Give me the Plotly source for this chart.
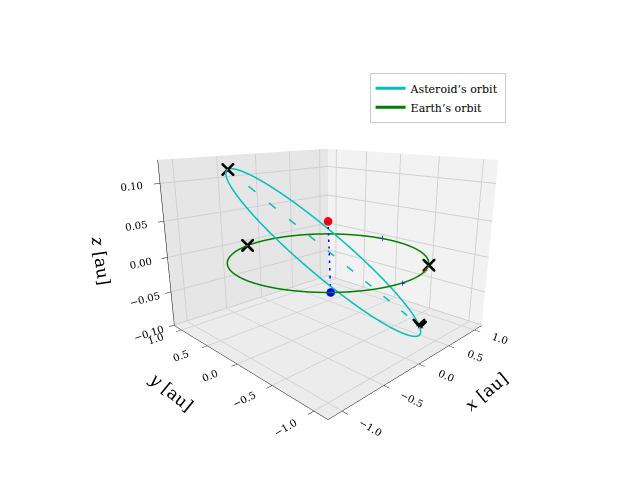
import numpy as np
import plotly.graph_objects as go

# orbit parameters (au)
earth_radius = 1.0
ast_center = [0.0, 0.0, 0.009]
ast_major = [-0.68, 0.68, 0.109]
ast_minor = [0.7, 0.7, 0.0]

# marked points
cross_x = [-0.68, 0.68, 0.65, -0.3, 0.5]
cross_y = [0.68, -0.68, -0.72, 0.96, -0.87]
cross_z = [0.118, -0.1, -0.1, 0.0, 0.0]
blue_plus_x = [1.0, -0.1]
blue_plus_y = [0.1, -1.0]
red_plus = [0.33, -0.94, 0.0]
red_dot = [0.0, 0.0, 0.05]
blue_dot = [-0.69, -0.72, 0.0]

t = np.linspace(0, 2 * np.pi, 300)
ex = earth_radius * np.cos(t)
ey = earth_radius * np.sin(t)
ez = np.zeros_like(t)
ax_ = ast_center[0] + ast_major[0] * np.cos(t) + ast_minor[0] * np.sin(t)
ay_ = ast_center[1] + ast_major[1] * np.cos(t) + ast_minor[1] * np.sin(t)
az_ = ast_center[2] + ast_major[2] * np.cos(t) + ast_minor[2] * np.sin(t)

fig = go.Figure()
fig.add_trace(go.Scatter3d(x=ax_, y=ay_, z=az_, mode="lines", line=dict(color="#00bfbf", width=3),
                           name="Asteroid’s orbit"))
fig.add_trace(go.Scatter3d(x=ex, y=ey, z=ez, mode="lines", line=dict(color="green", width=3),
                           name="Earth’s orbit"))
# line of apsides
fig.add_trace(go.Scatter3d(x=[cross_x[0], cross_x[1]], y=[cross_y[0], cross_y[1]], z=[cross_z[0], cross_z[1]],
                           mode="lines", line=dict(color="#00bfbf", width=3, dash="longdash"), showlegend=False))
fig.add_trace(go.Scatter3d(x=[red_dot[0], blue_dot[0]], y=[red_dot[1], blue_dot[1]], z=[red_dot[2], blue_dot[2]],
                           mode="lines", line=dict(color="blue", width=3, dash="longdash"), showlegend=False))
fig.add_trace(go.Scatter3d(x=cross_x, y=cross_y, z=cross_z, mode="markers",
                           marker=dict(symbol="x", color="black", size=3), showlegend=False))
fig.add_trace(go.Scatter3d(x=blue_plus_x, y=blue_plus_y, z=[0, 0], mode="markers",
                           marker=dict(symbol="cross", color="blue", size=3), showlegend=False))
fig.add_trace(go.Scatter3d(x=[red_plus[0]], y=[red_plus[1]], z=[red_plus[2]], mode="markers",
                           marker=dict(symbol="cross", color="red", size=3), showlegend=False))
fig.add_trace(go.Scatter3d(x=[red_dot[0]], y=[red_dot[1]], z=[red_dot[2]], mode="markers",
                           marker=dict(color="red", size=5), showlegend=False))
fig.add_trace(go.Scatter3d(x=[blue_dot[0]], y=[blue_dot[1]], z=[blue_dot[2]], mode="markers",
                           marker=dict(color="blue", size=5), showlegend=False))

font = dict(family="DejaVu Serif", size=11, color="black")
title_font = dict(family="DejaVu Serif", size=17, color="black")
axis_common = dict(showbackground=True, gridcolor="#d0d0d0", linecolor="black", showline=True,
                   ticks="outside", tickcolor="black", tickfont=font, zeroline=False, showspikes=False)
fig.update_layout(
    width=640, height=480,
    paper_bgcolor="white",
    margin=dict(l=0, r=0, t=0, b=0),
    font=font,
    legend=dict(x=0.565, y=0.865, xanchor="left", yanchor="top", bordercolor="#cccccc", borderwidth=1,
                bgcolor="white", font=dict(family="DejaVu Serif", size=11)),
    scene=dict(
        domain=dict(x=[0.12, 0.88], y=[0.07, 0.89]),
        xaxis=dict(title=dict(text="<i>x</i> [au]", font=title_font), range=[-1.15, 1.15],
                   tickvals=[-1, -0.5, 0, 0.5, 1], ticktext=["−1.0", "−0.5", "0.0", "0.5", "1.0"],
                   backgroundcolor="#f2f2f2", **axis_common),
        yaxis=dict(title=dict(text="<i>y</i> [au]", font=title_font), range=[-1.15, 1.15],
                   tickvals=[-1, -0.5, 0, 0.5, 1], ticktext=["−1.0", "−0.5", "0.0", "0.5", "1.0"],
                   backgroundcolor="#e6e6e6", **axis_common),
        zaxis=dict(title=dict(text="<i>z</i> [au]", font=title_font), range=[-0.101, 0.13],
                   tickvals=[-0.1, -0.05, 0, 0.05, 0.1], ticktext=["−0.10", "−0.05", "0.00", "0.05", "0.10"],
                   backgroundcolor="#ececec", **axis_common),
        aspectmode="manual", aspectratio=dict(x=1, y=1, z=0.75),
        camera=dict(eye=dict(x=-1.42, y=-1.42, z=0.55), center=dict(x=0, y=0, z=-0.05)),
    ),
)
fig.write_html("out.html")
